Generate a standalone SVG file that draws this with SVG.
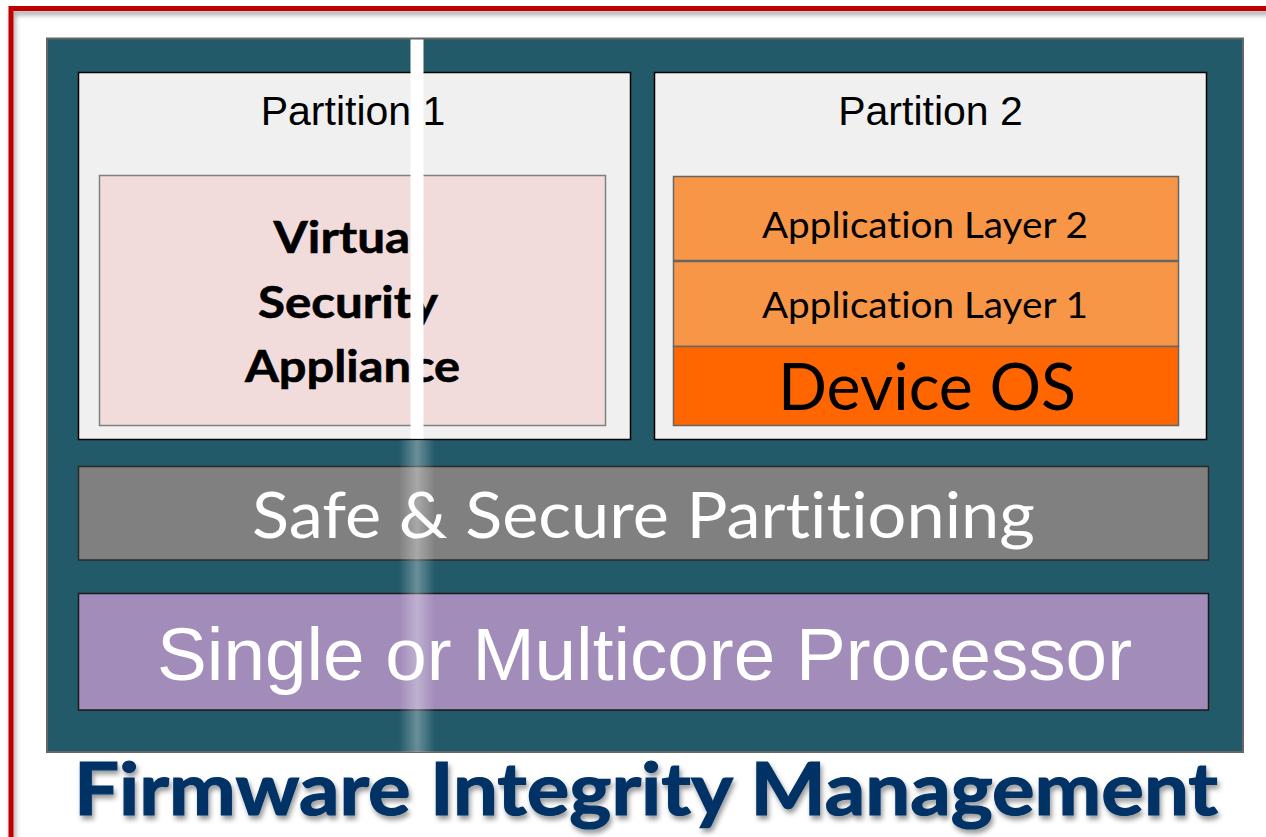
<svg xmlns="http://www.w3.org/2000/svg" width="1266" height="837" viewBox="0 0 1266 837">
  <defs>
    <style>
      .frame { fill: none; stroke: #C00000; stroke-width: 5; }
      .partition { fill: #F0F0F0; stroke: #000; stroke-width: 1.5; }
      .label-arial { font-family: "Liberation Sans", Arial, sans-serif; }
      .label-cal { font-family: Lato, "Open Sans", sans-serif; font-variant-ligatures: none; }
      .layer { stroke: #666; stroke-width: 1.5; }
    </style>
    <filter id="frameShadow" x="-5%" y="-5%" width="110%" height="110%">
      <feDropShadow dx="2" dy="4" stdDeviation="2.5" flood-color="#000" flood-opacity="0.35"/>
    </filter>
    <filter id="titleShadow" x="-5%" y="-20%" width="110%" height="150%">
      <feDropShadow dx="2" dy="4" stdDeviation="2.5" flood-color="#000" flood-opacity="0.4"/>
    </filter>
    <linearGradient id="glow" x1="0" y1="0" x2="1" y2="0">
      <stop offset="0" stop-color="#fff" stop-opacity="0"/>
      <stop offset="0.5" stop-color="#fff" stop-opacity="0.32"/>
      <stop offset="1" stop-color="#fff" stop-opacity="0"/>
    </linearGradient>
  </defs>

  <rect width="1266" height="837" fill="#fff"/>

  <!-- outer red frame -->
  <g id="frame">
    <rect class="frame" x="11" y="8.5" width="1320" height="900" filter="url(#frameShadow)"/>
  </g>

  <!-- platform container -->
  <g id="platform">
    <rect x="47" y="38.5" width="1196" height="713.5" fill="#235A69" stroke="#666" stroke-width="2"/>
  </g>

  <!-- partition 1 -->
  <g id="partition1">
    <rect class="partition" x="78.5" y="72.5" width="552" height="367"/>
    <text class="label-arial" x="353" y="125" font-size="41" text-anchor="middle" fill="#000">Partition 1</text>
    <g id="vsa">
      <rect x="99.5" y="175.5" width="506" height="250" fill="#F2DCDB" stroke="#808080" stroke-width="1.5"/>
      <g class="label-cal" font-weight="bold" font-size="43" text-anchor="middle" fill="#000" stroke="#000" stroke-width="0.6">
        <text x="348" y="253" textLength="149" lengthAdjust="spacingAndGlyphs">Virtual</text>
        <text x="348" y="318" textLength="180" lengthAdjust="spacingAndGlyphs">Security</text>
        <text x="352.5" y="382" textLength="215" lengthAdjust="spacingAndGlyphs">Appliance</text>
      </g>
    </g>
  </g>

  <!-- partition 2 -->
  <g id="partition2">
    <rect class="partition" x="654.5" y="72.5" width="552" height="367"/>
    <text class="label-arial" x="930.5" y="125" font-size="41" text-anchor="middle" fill="#000">Partition 2</text>
  </g>

  <g id="app-layer-2">
    <rect class="layer" x="673.5" y="176.5" width="505" height="84" fill="#F79646"/>
    <text class="label-cal" x="925" y="238" font-size="36" text-anchor="middle" fill="#000" textLength="326" lengthAdjust="spacingAndGlyphs">Application Layer 2</text>
  </g>
  <g id="app-layer-1">
    <rect class="layer" x="673.5" y="261.5" width="505" height="85" fill="#F79646"/>
    <text class="label-cal" x="925" y="318" font-size="36" text-anchor="middle" fill="#000" textLength="326" lengthAdjust="spacingAndGlyphs">Application Layer 1</text>
  </g>
  <g id="device-os">
    <rect class="layer" x="673.5" y="346.5" width="505" height="79" fill="#FF6600"/>
    <text class="label-cal" x="927" y="410" font-size="65" text-anchor="middle" fill="#000" textLength="298" lengthAdjust="spacingAndGlyphs">Device OS</text>
  </g>

  <!-- partitioning layer -->
  <g id="partitioning">
    <rect x="78.5" y="466.5" width="1130" height="93.5" fill="#808080" stroke="#2a2a2a" stroke-width="1.5"/>
    <text class="label-cal" x="643.5" y="538" font-size="64" text-anchor="middle" fill="#fff" textLength="783" lengthAdjust="spacingAndGlyphs">Safe &amp; Secure Partitioning</text>
  </g>

  <!-- processor layer -->
  <g id="processor">
    <rect x="78.5" y="593.5" width="1130" height="116.5" fill="#A18CBA" stroke="#1a1a1a" stroke-width="1.5"/>
    <text class="label-arial" x="644.5" y="680" font-size="74" text-anchor="middle" fill="#fff" textLength="975" lengthAdjust="spacingAndGlyphs">Single or Multicore Processor</text>
  </g>

  <!-- vertical divider with its glow below -->
  <g id="divider">
    <rect x="399" y="440" width="36" height="312" fill="url(#glow)"/>
    <rect x="410.5" y="39.5" width="13" height="399" fill="#fff"/>
  </g>

  <!-- title -->
  <g id="title">
    <text class="label-cal" x="646" y="815" font-size="73" font-weight="bold" text-anchor="middle" fill="#003366" stroke="#003366" stroke-width="1.2" textLength="1144" lengthAdjust="spacingAndGlyphs" filter="url(#titleShadow)">Firmware Integrity Management</text>
  </g>
</svg>
